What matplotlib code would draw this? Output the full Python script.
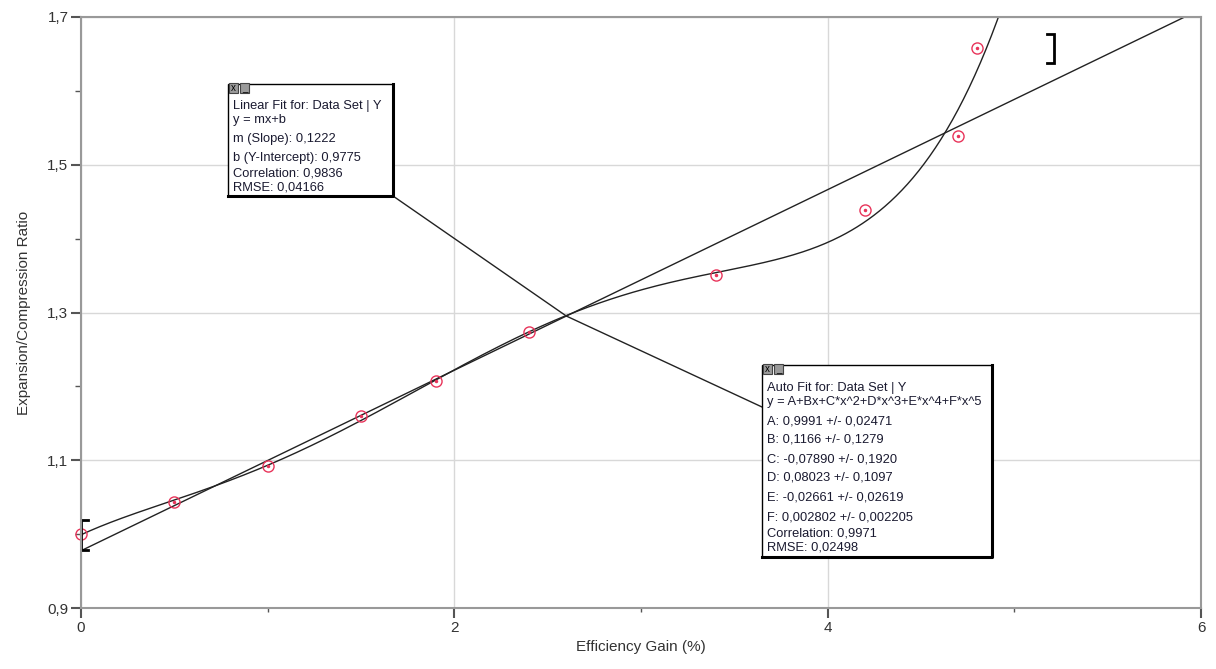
import numpy as np
import matplotlib.pyplot as plt
from matplotlib.patches import Rectangle
from matplotlib.lines import Line2D

plt.rcParams['font.family'] = ['Liberation Sans', 'DejaVu Sans']

# data set
gain = [0.0, 0.5, 1.0, 1.5, 1.9, 2.4, 3.4, 4.2, 4.7, 4.8]
ratio = [1.000, 1.044, 1.092, 1.160, 1.207, 1.274, 1.351, 1.439, 1.539, 1.658]

# fit parameters (as shown in the boxes)
lin_m = 0.1222
lin_b = 0.9775
poly_coef = [0.9991, 0.1166, -0.07890, 0.08023, -0.02661, 0.002802]

# range brackets
br_x = [0.0, 5.21]
br_lo = [0.979, 1.638]
br_hi = [1.019, 1.677]

lin_text = ["Linear Fit for: Data Set | Y", "y = mx+b", "m (Slope): 0,1222",
            "b (Y-Intercept): 0,9775", "Correlation: 0,9836", "RMSE: 0,04166"]
auto_text = ["Auto Fit for: Data Set | Y", "y = A+Bx+C*x^2+D*x^3+E*x^4+F*x^5",
             "A: 0,9991 +/- 0,02471", "B: 0,1166 +/- 0,1279", "C: -0,07890 +/- 0,1920",
             "D: 0,08023 +/- 0,1097", "E: -0,02661 +/- 0,02619",
             "F: 0,002802 +/- 0,002205", "Correlation: 0,9971", "RMSE: 0,02498"]

W, H = 1216, 669
fig = plt.figure(figsize=(W / 100, H / 100), dpi=100)
ax = fig.add_axes([81 / W, 1 - 608 / H, (1201 - 81) / W, (608 - 17) / H])


def fp(px, py):
    return px / W, 1 - py / H


ax.set_xlim(0, 6)
ax.set_ylim(0.9, 1.7)
ax.set_xticks([0, 2, 4, 6])
ax.set_xticks([1, 3, 5], minor=True)
ax.set_yticks([0.9, 1.1, 1.3, 1.5, 1.7])
ax.set_yticks([1.0, 1.2, 1.4, 1.6], minor=True)
ax.set_yticklabels(["0,9", "1,1", "1,3", "1,5", "1,7"])
ax.set_xticklabels(["0", "2", "4", "6"])
ax.tick_params(which='major', length=7, width=1.5, color='#555555', labelsize=11,
               labelcolor='#333333', pad=2)
ax.tick_params(axis='y', which='minor', length=4, width=1, color='#555555')
ax.tick_params(axis='x', which='minor', length=3, width=1, color='#555555')
for s in ax.spines.values():
    s.set_color('#999999')
    s.set_linewidth(1.5)
ax.grid(True, which='major', color='#d8d8d8', lw=1)
ax.set_axisbelow(True)
ax.set_xlabel("Efficiency Gain (%)", fontsize=11, color='#333333', labelpad=4)
ax.set_ylabel("Expansion/Compression Ratio", fontsize=11, color='#333333', labelpad=12)

xs = np.linspace(0, 6, 600)
ax.plot(xs, lin_m * xs + lin_b, color='#222222', lw=1)
ax.plot(xs, np.polyval(poly_coef[::-1], xs), color='#222222', lw=1)

ax.plot(gain, ratio, 'o', ms=8, mfc='none', mec='#e8345a', mew=1, clip_on=False)
ax.plot(gain, ratio, 'o', ms=1.5, color='#e8345a', clip_on=False)

# brackets
for i in range(len(br_x)):
    d = 0.035 if i == 0 else -0.035
    ax.plot([br_x[i] + d, br_x[i], br_x[i], br_x[i] + d],
            [br_hi[i], br_hi[i], br_lo[i], br_lo[i]], color='black', lw=2,
            clip_on=False, solid_joinstyle='miter')


def fit_box(left, top, right, bottom, lines, rows, tx):
    x0, y0 = fp(left, bottom)
    x1, y1 = fp(right, top)
    fig.add_artist(Rectangle((x0, y0), x1 - x0, y1 - y0, transform=fig.transFigure,
                             facecolor='white', edgecolor='black', lw=1, zorder=5))
    fig.add_artist(Line2D([x1, x1, x0], [y1, y0, y0], transform=fig.transFigure,
                          color='black', lw=2.2, zorder=6))
    # icons
    for k, g in enumerate(["x", "_"]):
        ix, iy = fp(left + 1 + k * 11, top + 9)
        fig.add_artist(Rectangle((ix, iy), 9 / W, 10 / H, transform=fig.transFigure,
                                 facecolor='#9a9a9a', edgecolor='#444444', lw=0.8, zorder=7))
        fig.text(ix + 4.5 / W, iy + 5 / H, g, fontsize=7, ha='center', va='center',
                 color='black', zorder=8)
    for s, py in zip(lines, rows):
        fig.text(*fp(tx, py), s, fontsize=9.3, color='#1a1a30', va='center', zorder=8)


fit_box(228, 84, 393, 196, lin_text, [106, 120, 139, 158, 173, 187], 233)
fit_box(762, 365, 992, 557, auto_text, [388, 402, 421, 440, 459, 478, 497, 517, 533, 547], 767)

# leader lines to the crossing of the two fits
fig.canvas.draw()
cx = 2.6
cy = lin_m * cx + lin_b
px, py = ax.transData.transform((cx, cy))
cfx, cfy = px / W, py / H
for bx, by in [(393, 196), (762, 407)]:
    fx, fy = fp(bx, by)
    fig.add_artist(Line2D([fx, cfx], [fy, cfy], transform=fig.transFigure,
                          color='#222222', lw=1, zorder=4))

fig.savefig("out.png", dpi=100)
